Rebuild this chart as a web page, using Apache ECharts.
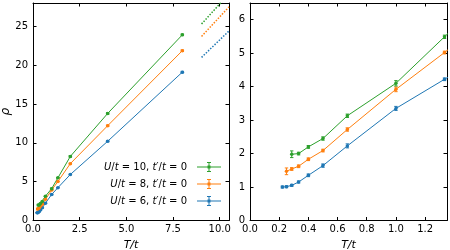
<!DOCTYPE html>
<html><head><meta charset="utf-8">
<script src="https://cdn.jsdelivr.net/npm/echarts@6/dist/echarts.min.js"></script>
<style>html,body{margin:0;padding:0;background:#fff}#c{width:450px;height:250px}</style>
</head><body><div id="c"></div>
<script>
// ---- data ----
const T6   = [0.222, 0.25, 0.286, 0.333, 0.4, 0.5, 0.667, 1.0, 1.333, 2, 4, 8];
const rho6 = [1.0, 1.01, 1.05, 1.15, 1.35, 1.64, 2.23, 3.35, 4.22, 5.92, 10.2, 19.1];
const err6 = [0.03, 0.03, 0.03, 0.03, 0.04, 0.05, 0.06, 0.06, 0.04, 0.05, 0.08, 0.1];

const T8   = [0.25, 0.286, 0.333, 0.4, 0.5, 0.667, 1.0, 1.333, 2, 4, 8];
const rho8 = [1.47, 1.54, 1.62, 1.83, 2.09, 2.72, 3.92, 5.02, 7.32, 12.2, 21.86];
const err8 = [0.1, 0.04, 0.04, 0.04, 0.04, 0.05, 0.07, 0.04, 0.06, 0.08, 0.1];

const T10   = [0.286, 0.333, 0.4, 0.5, 0.667, 1.0, 1.333, 2, 4, 8];
const rho10 = [1.98, 2.0, 2.2, 2.45, 3.13, 4.1, 5.49, 8.25, 13.78, 23.9];
const err10 = [0.1, 0.04, 0.04, 0.05, 0.05, 0.08, 0.05, 0.1, 0.1, 0.1];

// high-T guide lines (dotted), endpoints
const asymT   = [9.03, 10.5];
const asym6   = [21.0, 24.4];
const asym8   = [23.7, 27.5];
const asym10  = [25.3, 29.2];

const legendLabels = ['U/t = 10, t′/t = 0', 'U/t = 8, t′/t = 0', 'U/t = 6, t′/t = 0'];
const legendU = ['10', '8', '6'];
const colors = {6: '#1f77b4', 8: '#ff7f0e', 10: '#2ca02c'};

// ---- build ----
const FONT = 'DejaVu Sans';
const sets = [
  {U: 6, T: T6, r: rho6, e: err6, a: asym6, name: legendLabels[2]},
  {U: 8, T: T8, r: rho8, e: err8, a: asym8, name: legendLabels[1]},
  {U: 10, T: T10, r: rho10, e: err10, a: asym10, name: legendLabels[0]}
];

function renderErr(params, api) {
  const x = api.value(0), y = api.value(1), e = api.value(2);
  const lo = api.coord([x, y - e]), hi = api.coord([x, y + e]);
  const c = api.visual('color');
  const w = 1.7;
  const st = {stroke: c, lineWidth: 1};
  return {type: 'group', children: [
    {type: 'line', shape: {x1: lo[0], y1: lo[1], x2: hi[0], y2: hi[1]}, style: st},
    {type: 'line', shape: {x1: lo[0] - w, y1: lo[1], x2: lo[0] + w, y2: lo[1]}, style: st},
    {type: 'line', shape: {x1: hi[0] - w, y1: hi[1], x2: hi[0] + w, y2: hi[1]}, style: st}
  ]};
}

const axisCommon = {
  axisLine: {show: true, onZero: false, lineStyle: {color: '#000', width: 1}},
  axisTick: {show: true, inside: true, length: 3.5, lineStyle: {color: '#000', width: 1}},
  splitLine: {show: false},
  axisLabel: {color: '#000', fontFamily: FONT, fontSize: 10, showMaxLabel: false}
};
function mkX(grid, min, max, interval, pos, show, name) {
  return Object.assign({}, axisCommon, {
    type: 'value', gridIndex: grid, min, max, interval, position: pos,
    axisLabel: Object.assign({}, axisCommon.axisLabel, {show, margin: 4, formatter: v => v.toFixed(1)}),
    name: name || '', nameLocation: 'middle', nameGap: 12,
    nameTextStyle: {color: '#000', fontFamily: FONT, fontSize: 11, fontStyle: 'italic'}
  });
}
function mkY(grid, min, max, interval, pos, show, name) {
  return Object.assign({}, axisCommon, {
    type: 'value', gridIndex: grid, min, max, interval, position: pos,
    axisLabel: Object.assign({}, axisCommon.axisLabel, {show, margin: 5}),
    name: name || '', nameLocation: 'middle', nameGap: 17,
    nameTextStyle: {color: '#000', fontFamily: FONT, fontSize: 12, fontStyle: 'italic'}
  });
}

const series = [];
const panels = [{g: 0, xmax: 10.5}, {g: 1, xmax: 1.35}];
panels.forEach(p => {
  sets.forEach(s => {
    const pts = s.T.map((t, i) => [t, s.r[i]]);
    const errPts = s.T.map((t, i) => [t, s.r[i], s.e[i]]).filter(d => d[0] <= p.xmax);
    series.push({
      type: 'line', name: s.name, xAxisIndex: p.g * 2, yAxisIndex: p.g * 2,
      data: pts, symbol: 'circle', symbolSize: 3.5, showSymbol: true, clip: true,
      color: colors[s.U], itemStyle: {color: colors[s.U]},
      lineStyle: {color: colors[s.U], width: 1}, animation: false, z: 3
    });
    series.push({
      type: 'custom', xAxisIndex: p.g * 2, yAxisIndex: p.g * 2, renderItem: renderErr,
      data: errPts, encode: {x: 0, y: 1}, clip: true,
      itemStyle: {color: colors[s.U]}, animation: false, z: 3
    });
    if (p.g === 0) {
      series.push({
        type: 'line', xAxisIndex: 0, yAxisIndex: 0,
        data: asymT.map((t, i) => [t, s.a[i]]), symbol: 'none', clip: true,
        lineStyle: {color: colors[s.U], width: 1.5, type: [1.5, 1.5]}, animation: false, z: 2
      });
    }
  });
});

const iconPath = 'path://M0,4.5h24v1h-24z M11.5,0h1v10h-1z M10,0h4v1h-4z M10,9h4v1h-4z M10.5,3.5h3v3h-3z';

const option = {
  backgroundColor: '#fff',
  animation: false,
  grid: [
    {left: 33, top: 3, width: 196, height: 217.5, outerBoundsMode: 'none', containLabel: false},
    {left: 250, top: 3, width: 197, height: 217.5, outerBoundsMode: 'none', containLabel: false}
  ],
  xAxis: [
    mkX(0, 0, 10.5, 2.5, 'bottom', true, 'T/t'),
    mkX(0, 0, 10.5, 2.5, 'top', false),
    mkX(1, 0, 1.35, 0.2, 'bottom', true, 'T/t'),
    mkX(1, 0, 1.35, 0.2, 'top', false)
  ],
  yAxis: [
    mkY(0, 0, 28, 5, 'left', true, 'ρ'),
    mkY(0, 0, 28, 5, 'right', false),
    mkY(1, 0, 6.5, 1, 'left', true),
    mkY(1, 0, 6.5, 1, 'right', false)
  ],
  legend: {
    data: legendLabels, orient: 'vertical', align: 'right',
    right: 229, top: 161, padding: 0, itemGap: 5,
    itemWidth: 24, itemHeight: 10, icon: iconPath,
    itemStyle: {borderWidth: 0},
    selectedMode: false,
    formatter: name => {
      const u = legendU[legendLabels.indexOf(name)];
      return '{i|U}{r|/}{i|t}{r| = ' + u + ', }{i|t}{r|′/}{i|t}{e| = 0}';
    },
    textStyle: {
      color: '#000', fontFamily: FONT, fontSize: 10, lineHeight: 12,
      rich: {
        i: {fontStyle: 'italic', fontFamily: FONT, fontSize: 10, color: '#000'},
        r: {fontFamily: FONT, fontSize: 10, color: '#000'},
        e: {fontFamily: FONT, fontSize: 10, color: '#000', padding: [0, 5, 0, 0]}
      }
    }
  },
  series
};
const chart = echarts.init(document.getElementById('c'), null, {renderer: 'canvas'});
chart.setOption(option);
</script>
</body></html>
